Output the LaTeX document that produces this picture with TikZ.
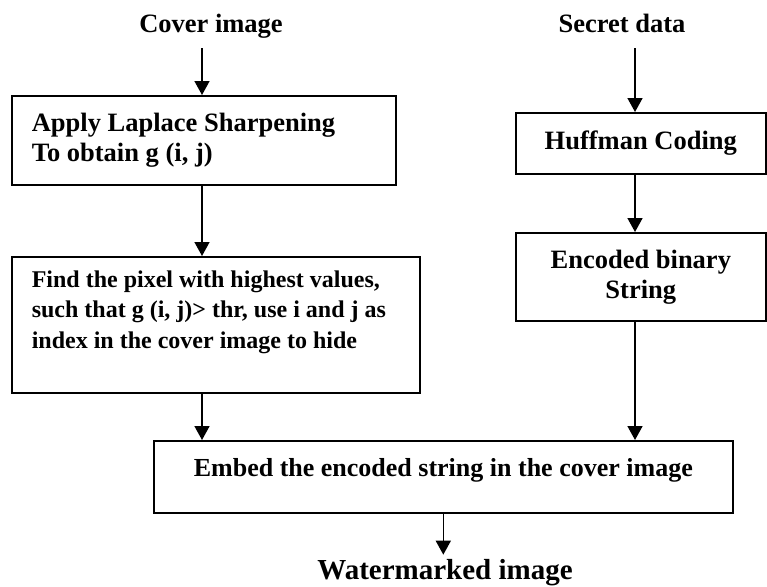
\documentclass[tikz,border=0pt]{standalone}
\usepackage{fontspec}
\setmainfont{Liberation Serif}
\usetikzlibrary{arrows.meta}

\tikzset{
	blk/.style={draw, rectangle, line width=1.6pt, anchor=north west, font=\bfseries\fontsize{26.5}{30}\selectfont},
	lbl/.style={anchor=base, inner sep=9pt, text depth=6pt, font=\bfseries\fontsize{26.5}{30}\selectfont},
	arr/.style={line width=1.6pt, -{Triangle[length=14pt, width=15pt]}}
}

\begin{document}
\begin{tikzpicture}[x=1pt, y=-1pt]
	\useasboundingbox (0, 0) rectangle (767, 586);

	\node[lbl] (cover) at (211, 33) {Cover image};
	\node[lbl] (secret) at (622, 33) {Secret data};

	\node[blk, minimum width=384pt, minimum height=89pt, inner xsep=20pt, text width=344pt, align=flush left] (laplace) at (11, 95) {Apply Laplace Sharpening\\To obtain g (i, j)};
	\node[blk, minimum width=408pt, minimum height=136pt, inner xsep=20pt, text width=368pt, align=flush left, font=\bfseries\fontsize{24}{30.5}\selectfont] (find) at (11, 256) {Find the pixel with highest values,\\such that g (i, j)> thr, use i and j as\\index in the cover image to hide\\ \mbox{}};

	\node[blk, minimum width=250pt, minimum height=61pt] (huffman) at (515, 112) {Huffman Coding};
	\node[blk, minimum width=250pt, minimum height=88pt, align=center] (encoded) at (515, 232) {Encoded binary\\String};

	\node[blk, minimum width=579pt, minimum height=72pt, text height=18.5pt, text depth=20pt, font=\bfseries\fontsize{26}{30}\selectfont] (embed) at (153, 440) {Embed the encoded string in the cover image};

	\node[lbl, inner sep=4pt, text depth=0pt, font=\bfseries\fontsize{29}{33}\selectfont] (wm) at (445, 579) {Watermarked image};

	\coordinate (lcol) at (202, 0);
	\coordinate (rcol) at (635, 0);

	% Arrows
	\draw[arr] (cover.south -| lcol) -- (laplace.north -| lcol);
	\draw[arr] (laplace.south -| lcol) -- (find.north -| lcol);
	\draw[arr] (find.south -| lcol) -- (embed.north -| lcol);
	\draw[arr] (secret.south -| rcol) -- (huffman.north -| rcol);
	\draw[arr] (huffman.south -| rcol) -- (encoded.north -| rcol);
	\draw[arr] (encoded.south -| rcol) -- (embed.north -| rcol);
	\draw[arr] (embed.south) -- (embed.south |- wm.north);
\end{tikzpicture}
\end{document}
